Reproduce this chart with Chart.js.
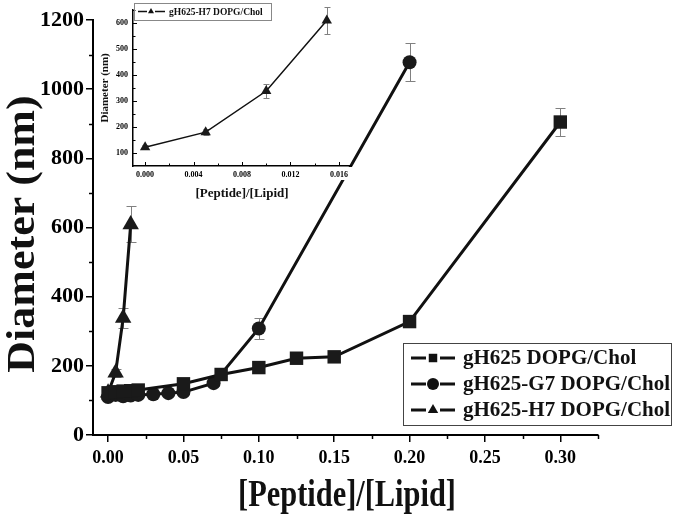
<!DOCTYPE html>
<html>
<head>
<meta charset="utf-8">
<script src="https://cdn.jsdelivr.net/npm/chart.js@4.4.0/dist/chart.umd.min.js"></script>
<style>
html, body { margin: 0; padding: 0; background: #fff; }
#wrap { position: relative; width: 675px; height: 524px; }
#main { position: absolute; left: 0; top: 0; }
#inset { position: absolute; left: 95px; top: 0; }
</style>
</head>
<body>
<div id="wrap">
  <canvas id="main" width="675" height="524"></canvas>
  <canvas id="inset" width="262" height="201"></canvas>
</div>
<script>
// gH625 DOPG/Chol (squares)
const sqX = [0, 0.005, 0.01, 0.015, 0.02, 0.05, 0.075, 0.1, 0.125, 0.15, 0.2, 0.3];
const sqY = [122, 125, 127, 128, 130, 148, 175, 195, 222, 226, 328, 905];
const sqErr = [5, 5, 5, 5, 5, 6, 6, 6, 6, 6, 12, 40];
// gH625-G7 DOPG/Chol (circles)
const ciX = [0, 0.005, 0.01, 0.015, 0.02, 0.03, 0.04, 0.05, 0.07, 0.1, 0.2];
const ciY = [110, 116, 112, 114, 116, 118, 121, 124, 150, 308, 1078];
const ciErr = [5, 5, 5, 5, 5, 5, 5, 6, 8, 30, 55];
// gH625-H7 DOPG/Chol (triangles)
const trX = [0, 0.005, 0.01, 0.015];
const trY = [122, 180, 338, 609];
const trErr = [8, 12, 28, 52];

const labels = ['gH625 DOPG/Chol', 'gH625-G7 DOPG/Chol', 'gH625-H7 DOPG/Chol'];

// tick positions
const xMajor = [0, 0.05, 0.1, 0.15, 0.2, 0.25, 0.3];
const xMinor = [0.025, 0.075, 0.125, 0.175, 0.225, 0.275, 0.325];
const yMinor = [100, 300, 500, 700, 900, 1100];
const inXMajor = [0, 0.004, 0.008, 0.012, 0.016];
const inXMinor = [0.002, 0.006, 0.010, 0.014];
const inYMajor = [100, 200, 300, 400, 500, 600];
const inYMinor = [150, 250, 350, 450, 550, 650];

const pts = (xs, ys) => xs.map((x, i) => ({ x: x, y: ys[i] }));
const serif = 'Liberation Serif';

const errorBars = {
  id: 'errorBars',
  beforeDatasetsDraw(chart, args, o) {
    const { ctx, scales: { x, y } } = chart;
    ctx.save();
    ctx.strokeStyle = o.color;
    ctx.lineWidth = o.width;
    chart.data.datasets.forEach(ds => {
      if (!ds.err) return;
      ds.data.forEach((p, i) => {
        const px = Math.round(x.getPixelForValue(p.x)) + 0.5;
        const y1 = Math.round(y.getPixelForValue(p.y + ds.err[i])) + 0.5;
        const y2 = Math.round(y.getPixelForValue(p.y - ds.err[i])) + 0.5;
        ctx.beginPath();
        ctx.moveTo(px, y1); ctx.lineTo(px, y2);
        ctx.moveTo(px - o.cap, y1); ctx.lineTo(px + o.cap, y1);
        ctx.moveTo(px - o.cap, y2); ctx.lineTo(px + o.cap, y2);
        ctx.stroke();
      });
    });
    ctx.restore();
  }
};

const extraTicks = {
  id: 'extraTicks',
  afterDraw(chart, args, o) {
    const { ctx, chartArea: a, scales: { x, y } } = chart;
    const dir = o.inward ? -1 : 1;
    ctx.save();
    ctx.strokeStyle = '#000';
    ctx.lineWidth = o.width;
    const tx = (list, len) => list.forEach(v => {
      const px = Math.round(x.getPixelForValue(v)) + 0.5;
      ctx.beginPath(); ctx.moveTo(px, a.bottom); ctx.lineTo(px, a.bottom + dir * len); ctx.stroke();
    });
    const ty = (list, len) => list.forEach(v => {
      const py = Math.round(y.getPixelForValue(v)) + 0.5;
      ctx.beginPath(); ctx.moveTo(a.left, py); ctx.lineTo(a.left - dir * len, py); ctx.stroke();
    });
    tx(o.xMajor, o.major); tx(o.xMinor, o.minor);
    ty(o.yMajor, o.major); ty(o.yMinor, o.minor);
    ctx.restore();
  }
};

// white strip behind the inset's x tick labels so the main curve does not run through them
const labelStrip = {
  id: 'labelStrip',
  beforeDraw(chart) {
    const { ctx, chartArea: a } = chart;
    ctx.save();
    ctx.fillStyle = '#fff';
    ctx.fillRect(a.left + 1, a.bottom + 1, a.right - a.left + 1, 13);
    ctx.restore();
  }
};

// axis titles drawn with a horizontal/vertical stretch, the source figure's lettering is narrow
const stretchTitles = {
  id: 'stretchTitles',
  afterDraw(chart, args, o) {
    const ctx = chart.ctx;
    ctx.save();
    ctx.fillStyle = '#111';
    ctx.textAlign = 'center';
    ctx.textBaseline = 'middle';
    ctx.font = 'bold ' + o.xSize + 'px "' + serif + '"';
    ctx.translate(o.xCx, o.xCy);
    ctx.scale(o.xScale, 1);
    ctx.fillText(o.xText, 0, 0);
    ctx.restore();
    ctx.save();
    ctx.fillStyle = '#111';
    ctx.textAlign = 'center';
    ctx.textBaseline = 'middle';
    ctx.font = 'bold ' + o.ySize + 'px "' + serif + '"';
    ctx.translate(o.yCx, o.yCy);
    ctx.rotate(-Math.PI / 2);
    ctx.scale(o.yScale, 1);
    ctx.fillText(o.yText, 0, 0);
    ctx.restore();
  }
};

const boxLegend = {
  id: 'boxLegend',
  afterDraw(chart, args, o) {
    const ctx = chart.ctx;
    ctx.save();
    ctx.strokeStyle = o.border;
    ctx.lineWidth = 1;
    ctx.strokeRect(o.x + 0.5, o.y + 0.5, o.w, o.h);
    chart.data.datasets.forEach((ds, i) => {
      const cy = o.y + o.first + i * o.step;
      const cx = o.x + o.mx;
      ctx.strokeStyle = '#111';
      ctx.lineWidth = o.lineW;
      ctx.beginPath();
      ctx.moveTo(o.x + o.l0, cy); ctx.lineTo(cx - o.gap, cy);
      ctx.moveTo(cx + o.gap, cy); ctx.lineTo(o.x + o.l1, cy);
      ctx.stroke();
      ctx.fillStyle = '#111';
      Chart.helpers.drawPoint(ctx, { pointStyle: ds.pointStyle, radius: o.r, borderWidth: 0, rotation: 0 }, cx, cy);
      ctx.font = 'bold ' + o.size + 'px "' + serif + '"';
      ctx.textBaseline = 'middle';
      ctx.fillStyle = '#111';
      ctx.fillText(ds.label, o.x + o.tx, cy + 1);
    });
    ctx.restore();
  }
};

function series(label, xs, ys, err, style, r, lw) {
  return {
    label: label, data: pts(xs, ys), err: err,
    showLine: true, borderColor: '#111', borderWidth: lw,
    backgroundColor: '#1a1a1a', pointBackgroundColor: '#1a1a1a', pointBorderColor: '#1a1a1a',
    pointBorderWidth: 0, pointStyle: style, pointRadius: r, pointHoverRadius: r
  };
}

new Chart(document.getElementById('main'), {
  type: 'scatter',
  data: {
    datasets: [
      series(labels[0], sqX, sqY, sqErr, 'rect', 9.5, 3),
      series(labels[1], ciX, ciY, ciErr, 'circle', 7, 3),
      series(labels[2], trX, trY, trErr, 'triangle', 9.5, 3)
    ]
  },
  options: {
    responsive: false, animation: false, devicePixelRatio: 1,
    layout: { padding: { left: 0, top: 20, right: 77, bottom: 0 } },
    plugins: {
      legend: { display: false }, tooltip: { enabled: false },
      errorBars: { color: '#808080', width: 1, cap: 5 },
      extraTicks: { inward: false, width: 1.5, major: 0, minor: 4, xMajor: [], xMinor: xMinor, yMajor: [], yMinor: yMinor },
      boxLegend: { x: 403, y: 343, w: 268, h: 82, first: 15, step: 26, l0: 8, l1: 52, mx: 30, gap: 7, r: 6, lineW: 3, tx: 60, size: 21, border: '#444' },
      stretchTitles: { xText: '[Peptide]/[Lipid]', xSize: 38, xScale: 0.8, xCx: 347, xCy: 496,
                       yText: 'Diameter (nm)', ySize: 40, yScale: 1.1, yCx: 24, yCy: 234 }
    },
    scales: {
      x: {
        type: 'linear', min: -0.01, max: 0.325,
        afterBuildTicks: s => { s.ticks = xMajor.map(v => ({ value: v })); },
        afterFit: s => { s.height = 89; },
        grid: { drawOnChartArea: false, tickLength: 7, color: '#000', lineWidth: 1.5 },
        border: { color: '#000', width: 2 },
        ticks: { font: { family: serif, weight: 'bold', size: 18 }, color: '#000', padding: 6, maxRotation: 0,
                 callback: v => v.toFixed(2) }
      },
      y: {
        type: 'linear', min: 0, max: 1200,
        ticks: { stepSize: 200, font: { family: serif, weight: 'bold', size: 22 }, color: '#000', padding: 2,
                 callback: v => String(v) },
        afterFit: s => { s.width = 93; },
        grid: { drawOnChartArea: false, tickLength: 7, color: '#000', lineWidth: 1.5 },
        border: { color: '#000', width: 2 }
      }
    }
  },
  plugins: [errorBars, extraTicks, boxLegend, stretchTitles]
});

new Chart(document.getElementById('inset'), {
  type: 'scatter',
  data: { datasets: [series(labels[2], trX, trY, trErr, 'triangle', 6, 1.5)] },
  options: {
    responsive: false, animation: false, devicePixelRatio: 1,
    layout: { padding: { left: 0, top: 3, right: 2, bottom: 0 } },
    plugins: {
      legend: { display: false }, tooltip: { enabled: false },
      errorBars: { color: '#808080', width: 1, cap: 3 },
      extraTicks: { inward: true, width: 1, major: 4, minor: 2.5, xMajor: inXMajor, xMinor: inXMinor, yMajor: inYMajor, yMinor: inYMinor },
      boxLegend: { x: 39, y: 3, w: 137, h: 17, first: 8.5, step: 0, l0: 4, l1: 31, mx: 17, gap: 4, r: 3.5, lineW: 1.5, tx: 35, size: 9.5, border: '#888' }
    },
    scales: {
      x: {
        type: 'linear', min: -0.001, max: 0.017,
        afterBuildTicks: s => { s.ticks = inXMajor.map(v => ({ value: v })); },
        afterFit: s => { s.height = 35; },
        grid: { drawOnChartArea: false, drawTicks: false },
        border: { color: '#000', width: 1.5 },
        ticks: { font: { family: serif, weight: 'bold', size: 8 }, color: '#000', padding: 4, maxRotation: 0,
                 callback: v => v.toFixed(3) },
        title: { display: true, text: '[Peptide]/[Lipid]', color: '#111',
                 font: { family: serif, weight: 'bold', size: 13 }, padding: { top: 0, bottom: 0 } }
      },
      y: {
        type: 'linear', min: 50, max: 650,
        afterBuildTicks: s => { s.ticks = inYMajor.map(v => ({ value: v })); },
        afterFit: s => { s.width = 38; },
        grid: { drawOnChartArea: false, drawTicks: false },
        border: { color: '#000', width: 1.5 },
        ticks: { font: { family: serif, weight: 'bold', size: 8 }, color: '#000', padding: 5 },
        title: { display: true, text: 'Diameter (nm)', color: '#111',
                 font: { family: serif, weight: 'bold', size: 11 }, padding: { top: 4, bottom: 0 } }
      }
    }
  },
  plugins: [labelStrip, errorBars, extraTicks, boxLegend]
});
</script>
</body>
</html>
